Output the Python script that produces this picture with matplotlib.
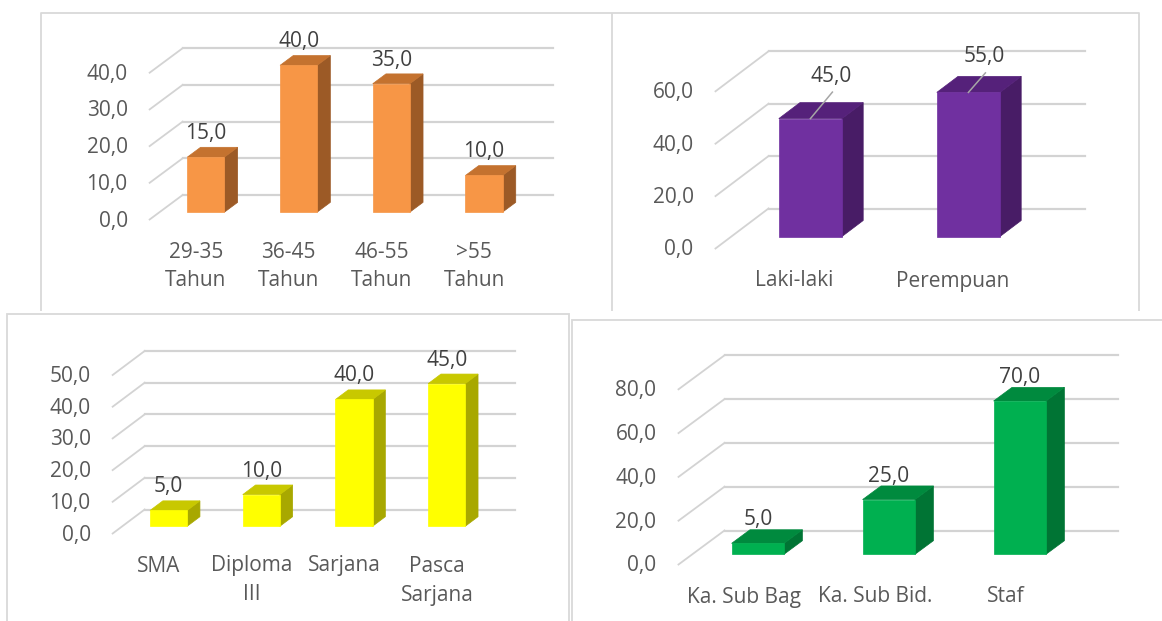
import matplotlib
matplotlib.use("Agg")
import matplotlib.pyplot as plt
from matplotlib.patches import Polygon, Rectangle
from matplotlib.lines import Line2D
from matplotlib.transforms import offset_copy

plt.rcParams['font.family'] = ['Open Sans', 'DejaVu Sans']

# ---------------- data ----------------
age_labels = ["29-35\nTahun", "36-45\nTahun", "46-55\nTahun", ">55\nTahun"]
age_values = [15.0, 40.0, 35.0, 10.0]
age_ticks = [0, 10, 20, 30, 40]

gender_labels = ["Laki-laki", "Perempuan"]
gender_values = [45.0, 55.0]
gender_ticks = [0, 20, 40, 60]

edu_labels = ["SMA", "Diploma\nIII", "Sarjana", "Pasca\nSarjana"]
edu_values = [5.0, 10.0, 40.0, 45.0]
edu_ticks = [0, 10, 20, 30, 40, 50]

pos_labels = ["Ka. Sub Bag", "Ka. Sub Bid.", "Staf"]
pos_values = [5.0, 25.0, 70.0]
pos_ticks = [0, 20, 40, 60, 80]

# ---------------- styling ----------------
W, H = 1162, 621
DPI = 100
FS = 15
TICK_COL = "#595959"
VAL_COL = "#404040"
GRID_COL = "#D3D3D3"
FRAME_COL = "#D9D9D9"

fig = plt.figure(figsize=(W / DPI, H / DPI), dpi=DPI)
fig.patch.set_facecolor("white")

# frame overlay (pixel coordinates, y downward)
frame_ax = fig.add_axes([0, 0, 1, 1], zorder=0)
frame_ax.set_xlim(0, W)
frame_ax.set_ylim(H, 0)
frame_ax.axis("off")
fl = dict(color=FRAME_COL, lw=1.3, solid_capstyle="butt")
frame_ax.plot([41, 41, 1139, 1139], [311, 13, 13, 311], **fl)
frame_ax.plot([612, 612], [13, 311], **fl)
frame_ax.add_patch(Rectangle((7, 314), 562, 320, facecolor="white", edgecolor=FRAME_COL, lw=1.3))
frame_ax.add_patch(Rectangle((572, 320), 600, 320, facecolor="white", edgecolor=FRAME_COL, lw=1.3))


def fmt(v):
    return f"{v:.1f}".replace(".", ",")


def panel(labels, values, ticks, c0, s, y0, k, depth, colors,
          label_offsets=None, zo=1):
    """c0: pixel x of first category centre (front plane); s: px per category;
    y0: pixel y of value 0 (front plane); k: px per value unit;
    depth: (dx, dy_up) pixel depth of the floor."""
    n = len(values)
    vmax = ticks[-1]
    left = c0 - s / 2
    ax = fig.add_axes([left / W, (H - y0) / H, n * s / W, k * vmax / H], zorder=zo)
    ax.set_xlim(-0.5, n - 0.5)
    ax.set_ylim(0, vmax)
    ax.axis("off")
    ax.patch.set_alpha(0)

    ddx = depth[0] / s
    ddy = depth[1] / k
    # grid: side wall diagonals and back wall horizontals
    for t in ticks:
        ax.add_line(Line2D([-0.5, -0.5 + ddx], [t, t + ddy], color=GRID_COL,
                           lw=1.3, clip_on=False, zorder=1))
        ax.add_line(Line2D([-0.5 + ddx, n - 0.5 + ddx], [t + ddy, t + ddy],
                           color=GRID_COL, lw=1.6, clip_on=False, zorder=1))
        tr = offset_copy(ax.transData, fig=fig, x=-22, y=-7, units="dots")
        ax.text(-0.5, t, fmt(t), transform=tr, ha="right", va="baseline",
                fontsize=FS, color=TICK_COL, clip_on=False)

    front_c, top_c, side_c = colors
    hw = 0.2
    f1, f2 = 0.3, 0.7
    ox1, oy1 = f1 * ddx, f1 * ddy
    ox2, oy2 = f2 * ddx, f2 * ddy
    for i, v in enumerate(values):
        side = [(i + hw + ox1, oy1), (i + hw + ox2, oy2),
                (i + hw + ox2, v + oy2), (i + hw + ox1, v + oy1)]
        top = [(i - hw + ox1, v + oy1), (i + hw + ox1, v + oy1),
               (i + hw + ox2, v + oy2), (i - hw + ox2, v + oy2)]
        ax.add_patch(Polygon(side, closed=True, facecolor=side_c,
                             edgecolor=side_c, lw=0.5, clip_on=False, zorder=3))
        ax.add_patch(Polygon(top, closed=True, facecolor=top_c,
                             edgecolor=top_c, lw=0.5, clip_on=False, zorder=3))
        ax.add_patch(Rectangle((i - hw + ox1, oy1), 2 * hw, v, facecolor=front_c,
                               edgecolor=front_c, lw=0.5, clip_on=False, zorder=4))
        bx, by = i + ox1, v + oy1
        if label_offsets is None:
            tr = offset_copy(ax.transData, fig=fig, x=0, y=18, units="dots")
            ax.text(bx, by, fmt(v), transform=tr, ha="center", va="baseline",
                    fontsize=FS, color=VAL_COL, clip_on=False, zorder=6)
        else:
            lx, ly = label_offsets[i]
            tr = offset_copy(ax.transData, fig=fig, x=lx, y=ly - 7, units="dots")
            ax.text(bx, by, fmt(v), transform=tr, ha="center", va="baseline",
                    fontsize=FS, color=VAL_COL, clip_on=False, zorder=6)
            # leader line from bar top to just below label
            p0 = ax.transData.transform((bx, by))
            ax.add_line(Line2D([p0[0], p0[0] + lx + 1], [p0[1], p0[1] + ly - 17.5],
                               transform=None, color="#A6A6A6", lw=1.1,
                               clip_on=False, zorder=5))

    for i, lab in enumerate(labels):
        for j, line in enumerate(lab.split("\n")):
            tr = offset_copy(ax.transData, fig=fig, x=0, y=-(38 + 29 * j), units="dots")
            ax.text(i, 0, line, transform=tr, ha="center", va="baseline",
                    fontsize=FS, color=TICK_COL, clip_on=False)
    return ax


panel(age_labels, age_values, age_ticks, c0=196, s=92.7, y0=219.5, k=3.67,
      depth=(33, 24.5), colors=("#F79646", "#C4722F", "#9C5A26"), zo=1)
panel(gender_labels, gender_values, gender_ticks, c0=794.5, s=158, y0=248.5, k=2.62,
      depth=(53, 40), colors=("#7030A0", "#55217A", "#481C66"),
      label_offsets=[(21, 44), (16, 37)], zo=1)
panel(edu_labels, edu_values, edu_ticks, c0=159, s=92.7, y0=533.5, k=3.17,
      depth=(32, 24), colors=("#FFFF00", "#C8C800", "#A8A800"), zo=2)
panel(pos_labels, pos_values, pos_ticks, c0=744, s=131, y0=564.5, k=2.19,
      depth=(46, 34), colors=("#00B050", "#008A3E", "#007434"), zo=2)

fig.savefig("out.png", dpi=DPI, facecolor="white")
